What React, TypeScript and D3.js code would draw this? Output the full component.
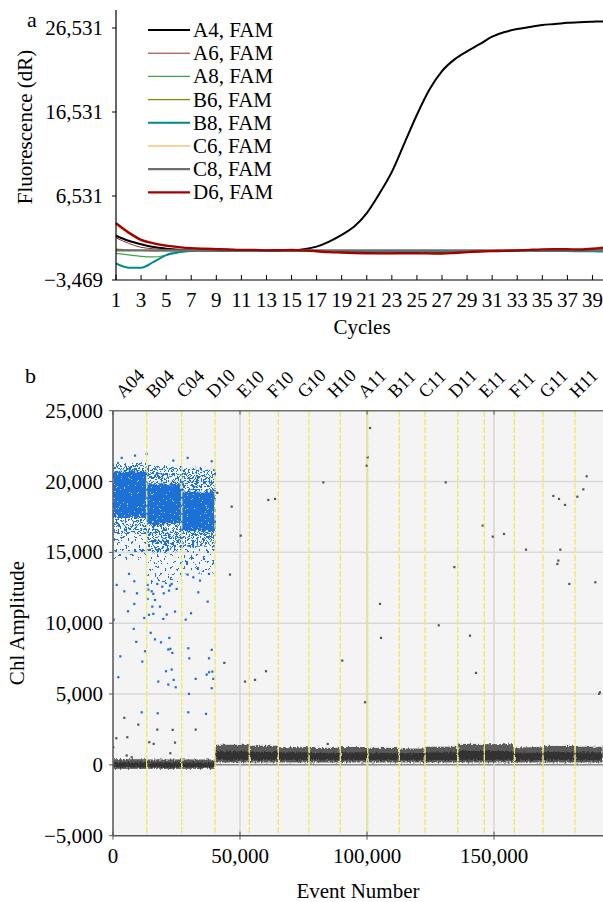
import React from 'react';
import * as d3 from 'd3';

// ---------- panel a: amplification curves ----------
const cycles = [1, 2, 3, 4, 5, 6, 7, 8, 9, 10, 11, 12, 13, 14, 15, 16, 17, 18, 19, 20,
  21, 22, 23, 24, 25, 26, 27, 28, 29, 30, 31, 32, 33, 34, 35, 36, 37, 38, 39, 40];

const a4 = [1800, 1200, 780, 450, 260, 130, 60, 20, 0, -20, 0, 0, -30, 0, 40, 190, 500, 1100, 1900, 2900,
  4500, 6800, 9400, 12800, 16200, 19200, 21400, 22800, 23750, 24600, 25500, 26050, 26400, 26650, 26900, 27000, 27150, 27230, 27280, 27320];
const a6 = [1550, 900, 420, 250, 130, 70, 40, 20, 10, 0, 0, 0, -20, 0, 20, 20, -30, -100, -150, -200,
  -230, -250, -250, -250, -240, -250, -260, -220, -150, -80, -40, 0, 30, 80, 120, 150, 150, 140, 180, 300];
const a8 = [-300, -480, -650, -720, -520, -220, -60, 0, 20, 10, 0, 10, -10, 0, 0, -20, -60, -100, -120, -150,
  -160, -180, -180, -170, -160, -170, -180, -150, -100, -60, -30, 0, 20, 40, 60, 70, 60, 50, 40, 40];
const b6 = [200, 100, 40, 10, 0, 0, 0, 0, 10, 0, 0, 0, -10, 0, 0, -10, -40, -80, -100, -120,
  -140, -150, -150, -150, -140, -150, -160, -130, -90, -50, -20, 0, 20, 50, 80, 100, 90, 80, 100, 200];
const b8 = [-1500, -2000, -2000, -1300, -500, -150, 0, 40, 40, 30, 20, 20, 10, 20, 30, 20, 0, -30, -50, -60,
  -60, -70, -70, -60, -60, -60, -70, -60, -40, -20, -10, 0, 0, 0, -10, -20, -30, -50, -60, -80];
const c6 = [3100, 2050, 1250, 850, 580, 420, 310, 240, 190, 150, 110, 110, 60, 80, 100, 60, -50, -160, -220, -260,
  -300, -320, -330, -300, -310, -320, -330, -260, -160, -90, -40, 0, 40, 100, 160, 180, 170, 160, 230, 380];
const c8 = [60, 60, 60, 60, 60, 60, 50, 50, 50, 50, 50, 50, 50, 50, 50, 50, 50, 50, 50, 50,
  50, 50, 50, 50, 50, 50, 50, 50, 50, 50, 50, 50, 50, 50, 50, 50, 50, 50, 50, 50];
const d6 = [3300, 2200, 1300, 900, 620, 450, 320, 250, 200, 160, 120, 120, 60, 80, 100, 60, -50, -150, -200, -250,
  -280, -300, -300, -280, -290, -300, -320, -250, -150, -80, -30, 0, 50, 120, 180, 200, 190, 170, 250, 420];

const seriesNames = ['A4, FAM', 'A6, FAM', 'A8, FAM', 'B6, FAM', 'B8, FAM', 'C6, FAM', 'C8, FAM', 'D6, FAM'];
const seriesValues = [a4, a6, a8, b6, b8, c6, c8, d6];
const seriesColors = ['#000000', '#8b2f2f', '#3fa645', '#8a8a00', '#00898c', '#f2a33a', '#6e6e6e', '#a30000'];
const seriesWidths = [2, 1, 1.2, 1.2, 2, 1.2, 2.2, 2.4];

const topYTicks = [26531, 16531, 6531, -3469];
const topXTicks = [1, 3, 5, 7, 9, 11, 13, 15, 17, 19, 21, 23, 25, 27, 29, 31, 33, 35, 37, 39];

// ---------- panel b: droplet amplitudes ----------
const wells = ['A04', 'B04', 'C04', 'D10', 'E10', 'F10', 'G10', 'H10', 'A11', 'B11', 'C11', 'D11', 'E11', 'F11', 'G11', 'H11'];
const wellStart = [0, 13270, 27050, 40160, 53660, 65080, 77170, 89490, 100280, 112720, 122830, 135710, 146180, 157990, 169290, 181890];
const eventMax = 192900;

// negative droplet cluster per well (outer band and dense middle)
const negLow = [-280, -280, -280, 170, 170, 170, 170, 170, 170, 170, 170, 170, 170, 170, 170, 170];
const negHigh = [400, 380, 380, 1420, 1350, 1250, 1200, 1260, 1200, 1150, 1280, 1480, 1460, 1240, 1340, 1280];
const negCoreLow = [-170, -170, -170, 350, 350, 350, 350, 350, 350, 350, 350, 350, 350, 350, 350, 350];
const negCoreHigh = [180, 170, 170, 950, 920, 880, 850, 880, 850, 830, 880, 980, 980, 860, 900, 880];

// positive droplet cluster (first three wells)
const posWells = ['A04', 'B04', 'C04'];
const posCoreLow = [17500, 17000, 16500];
const posCoreHigh = [20700, 19800, 19300];
const posFringeLow = [16300, 15000, 15400];
const posFringeHigh = [21300, 21100, 20900];
const posSparseLow = [14500, 12800, 13500];

const bluePoints: [number, number][] = [
  [1460, 12700], [4450, 12250], [6300, 13480], [8390, 12960], [9450, 12110], [8390, 11360], [5900, 10840], [280, 10250],
  [12320, 10370], [13650, 12700], [13900, 12370], [13650, 11710], [15230, 12250], [15870, 12070], [16530, 11640],
  [14170, 10590], [15870, 10660], [15470, 11170], [17440, 12770], [18500, 11170], [19410, 12580], [19960, 12110],
  [21140, 10610], [19800, 10300], [22440, 12650], [23110, 12770], [22050, 12300], [25080, 12420], [24410, 10820],
  [29410, 13430], [31610, 13240], [33580, 12180], [34250, 13010], [30710, 10700], [28620, 10250], [37280, 11520],
  [37800, 13480], [8150, 9600], [14840, 9320], [9170, 8680], [16530, 8860], [18900, 8650], [22170, 8960],
  [21770, 8140], [22570, 8190], [23350, 7900], [12600, 8020], [2880, 7660], [11540, 7290], [29650, 8230],
  [38860, 8120], [30040, 7520], [37800, 7520], [20870, 6610], [23110, 6730], [36890, 6370], [37800, 6540],
  [39100, 6580], [39490, 6070], [2090, 6190], [17830, 5880], [23900, 6000], [21770, 5670], [32560, 6070],
  [24690, 5480], [38860, 5410], [29920, 5010], [11300, 3710], [17600, 3640], [29650, 3710], [36610, 3600],
  [3430, 21670], [8660, 21830], [13270, 21950], [23740, 21480], [29410, 21670], [38860, 21430]
];

const grayPoints: [number, number][] = [
  [4450, 3320], [9960, 2840], [1300, 1880], [5630, 1950], [17440, 2490], [23500, 2470], [32560, 2490],
  [14290, 1600], [16020, 1480], [24410, 1570], [5390, 660], [7360, 540], [22570, 820], [120, 1240],
  [41060, 19200], [46730, 18230], [50270, 16180], [46060, 13430], [61140, 18700], [63780, 18770], [82790, 19940],
  [101180, 23780], [100280, 21710], [99880, 21120], [105110, 11360], [105510, 8960], [90270, 7360], [43820, 7200],
  [60240, 6610], [51970, 5880], [55910, 6000], [99210, 4420], [191700, 5120], [191340, 5020],
  [130990, 19940], [145550, 16890], [149490, 16110], [153940, 16300], [162600, 15190], [173350, 18980],
  [175590, 18770], [177950, 18350], [182800, 18930], [185160, 19450], [186470, 20370], [176100, 15190],
  [175320, 14420], [174930, 14180], [134370, 13960], [179640, 12770], [189880, 12890], [128220, 9850],
  [140550, 9120], [142910, 6490], [84530, 1480]
];

const bottomYTicks = [-5000, 0, 5000, 10000, 15000, 20000, 25000];
const bottomXTicks = [0, 50000, 100000, 150000];

const FONT = 'Liberation Serif, DejaVu Serif, serif';
const fmt = d3.format(',');
const fmtMinus = (v: number) => (v < 0 ? '\u2212' + fmt(-v) : fmt(v));

const BLUE = '#1c6fd6';
const FS = 21;

export default function App() {
  // panel a scales
  const xA = d3.scaleLinear().domain([1, 40]).range([116, 605]);
  const yA = d3.scaleLinear().domain([-3469, 26531]).range([280, 28]);
  const line = d3.line<number>()
    .x((_, i) => xA(cycles[i]))
    .y(d => yA(d))
    .curve(d3.curveMonotoneX);

  // panel b scales
  const xB = d3.scaleLinear().domain([0, eventMax]).range([113, 603]);
  const yB = d3.scaleLinear().domain([-5000, 25000]).range([835.7, 410.7]);
  const labelBand = d3.scaleBand<string>().domain(wells).range([113, 597]);
  const wellEnd = (i: number) => (i + 1 < wellStart.length ? wellStart[i + 1] : eventMax);

  const plotTop = yB(25000);
  const plotBottom = yB(-5000);

  return (
    <svg width={603} height={902} style={{ position: 'absolute', left: 0, top: 0, background: '#fff', fontFamily: FONT }}
      fontFamily={FONT}>
      <defs>
        <pattern id="core" patternUnits="userSpaceOnUse" width={7} height={7}>
          <rect width={7} height={7} fill={BLUE} />
          <rect x={2} y={1} width={1} height={1} fill="#9cc0ee" />
          <rect x={5} y={4} width={1} height={1} fill="#b8d2f2" />
        </pattern>
        <pattern id="fringe" patternUnits="userSpaceOnUse" width={8} height={8}>
          <rect x={0} y={0} width={2} height={2} fill={BLUE} />
          <rect x={4} y={1} width={2} height={2} fill={BLUE} />
          <rect x={2} y={3} width={2} height={2} fill={BLUE} />
          <rect x={6} y={4} width={2} height={2} fill={BLUE} />
          <rect x={0} y={5} width={2} height={2} fill={BLUE} />
          <rect x={4} y={6} width={2} height={2} fill={BLUE} />
          <rect x={6} y={1} width={1} height={2} fill={BLUE} />
        </pattern>
        <pattern id="sparse" patternUnits="userSpaceOnUse" width={13} height={12}>
          <rect x={1} y={2} width={2} height={2} fill={BLUE} />
          <rect x={8} y={5} width={2} height={2} fill={BLUE} />
          <rect x={4} y={9} width={2} height={2} fill={BLUE} />
          <rect x={11} y={10} width={2} height={2} fill={BLUE} />
        </pattern>
        <filter id="rough" x="-5%" y="-30%" width="110%" height="160%">
          <feTurbulence type="fractalNoise" baseFrequency="0.35" numOctaves={2} seed={4} />
          <feDisplacementMap in="SourceGraphic" scale={7} xChannelSelector="R" yChannelSelector="G" />
        </filter>
        <filter id="roughBand" x="-2%" y="-60%" width="104%" height="220%">
          <feTurbulence type="fractalNoise" baseFrequency="0.6 0.3" numOctaves={2} seed={9} />
          <feDisplacementMap in="SourceGraphic" scale={4} xChannelSelector="R" yChannelSelector="G" />
        </filter>
        <clipPath id="plotClip">
          <rect x={113} y={plotTop} width={603 - 113} height={plotBottom - plotTop} />
        </clipPath>
      </defs>

      {/* ===== panel a ===== */}
      <text x={27} y={27} fontSize={22}>a</text>
      {seriesValues.map((vals, i) => (
        <path key={seriesNames[i]} d={line(vals) || ''} fill="none"
          stroke={seriesColors[i]} strokeWidth={seriesWidths[i]} />
      ))}
      <line x1={116} x2={116} y1={10} y2={280} stroke="#000" strokeWidth={1.2} />
      <line x1={116} x2={603} y1={280} y2={280} stroke="#000" strokeWidth={1.2} />
      {topYTicks.map(t => (
        <g key={t}>
          <line x1={112} x2={116} y1={yA(t)} y2={yA(t)} stroke="#000" />
          <text x={103} y={yA(t) + 7} textAnchor="end" fontSize={FS}>{fmtMinus(t)}</text>
        </g>
      ))}
      {topXTicks.map(t => (
        <g key={t}>
          <line x1={xA(t)} x2={xA(t)} y1={280} y2={275} stroke="#000" />
          <text x={xA(t)} y={307} textAnchor="middle" fontSize={FS}>{t}</text>
        </g>
      ))}
      <text x={362} y={334} textAnchor="middle" fontSize={FS}>Cycles</text>
      <text transform={`translate(32,127) rotate(-90)`} textAnchor="middle" fontSize={FS}>Fluorescence (dR)</text>
      {seriesNames.map((n, i) => {
        const cy = 30 + i * 23.2;
        return (
          <g key={n}>
            <line x1={148} x2={190} y1={cy} y2={cy} stroke={seriesColors[i]} strokeWidth={seriesWidths[i]} />
            <text x={193} y={cy + 7} fontSize={FS}>{n}</text>
          </g>
        );
      })}

      {/* ===== panel b ===== */}
      <text x={25} y={383} fontSize={22}>b</text>
      <rect x={113} y={plotTop} width={603 - 113} height={plotBottom - plotTop} fill="#f4f4f4" />
      {bottomYTicks.filter(t => t !== 25000 && t !== -5000).map(t => (
        <line key={t} x1={113} x2={603} y1={yB(t)} y2={yB(t)} stroke={t === 0 ? '#8a8a8a' : '#d9d9d9'} strokeWidth={1.5} />
      ))}
      {bottomXTicks.filter(t => t > 0).map(t => (
        <line key={t} x1={xB(t)} x2={xB(t)} y1={plotTop} y2={plotBottom} stroke="#d6d6d6" strokeWidth={1.5} />
      ))}

      <g clipPath="url(#plotClip)">
        {/* negative clusters */}
        <g filter="url(#roughBand)">
          {wells.map((w, i) => (
            <g key={w}>
              <rect x={xB(wellStart[i]) + 0.5} width={xB(wellEnd(i)) - xB(wellStart[i]) - 1}
                y={yB(negHigh[i])} height={yB(negLow[i]) - yB(negHigh[i])} fill="#5a5a5a" />
              <rect x={xB(wellStart[i]) + 0.5} width={xB(wellEnd(i)) - xB(wellStart[i]) - 1}
                y={yB(negCoreHigh[i])} height={yB(negCoreLow[i]) - yB(negCoreHigh[i])} fill="#323232" />
            </g>
          ))}
        </g>

        {/* positive clusters */}
        <g filter="url(#rough)">
          {posWells.map((w, j) => {
            const i = wells.indexOf(w);
            const x0 = xB(wellStart[i]);
            const wdt = xB(wellEnd(i)) - x0;
            return (
              <g key={w}>
                <rect x={x0} width={wdt} y={yB(posFringeLow[j])} height={yB(posSparseLow[j]) - yB(posFringeLow[j])} fill="url(#sparse)" />
                <rect x={x0} width={wdt} y={yB(posFringeHigh[j])} height={yB(posFringeLow[j]) - yB(posFringeHigh[j])} fill="url(#fringe)" />
                <rect x={x0} width={wdt} y={yB(posCoreHigh[j])} height={yB(posCoreLow[j]) - yB(posCoreHigh[j])} fill="url(#core)" />
              </g>
            );
          })}
        </g>

        {grayPoints.map((p, i) => (
          <rect key={'g' + i} x={xB(p[0]) - 1.1} y={yB(p[1]) - 1.1} width={2.2} height={2.2} fill="#555" />
        ))}
        {bluePoints.map((p, i) => (
          <rect key={'b' + i} x={xB(p[0]) - 1.1} y={yB(p[1]) - 1.1} width={2.2} height={2.2} fill={BLUE} />
        ))}

        {/* well boundaries */}
        {wellStart.slice(1).map(s => (
          <line key={s} x1={xB(s)} x2={xB(s)} y1={plotTop} y2={plotBottom}
            stroke="#eaea5c" strokeWidth={1.3} strokeDasharray="6,2" />
        ))}
      </g>

      {/* frame and axes */}
      <line x1={113} x2={603} y1={plotTop} y2={plotTop} stroke="#707070" strokeWidth={1.5} />
      <line x1={113} x2={113} y1={plotTop} y2={plotBottom} stroke="#555" strokeWidth={1.5} />
      <line x1={113} x2={603} y1={plotBottom} y2={plotBottom} stroke="#555" strokeWidth={1.5} />
      {bottomYTicks.map(t => (
        <g key={t}>
          <line x1={109} x2={113} y1={yB(t)} y2={yB(t)} stroke="#555" />
          <text x={103} y={yB(t) + 7} textAnchor="end" fontSize={FS}>{fmtMinus(t)}</text>
        </g>
      ))}
      {bottomXTicks.map(t => (
        <g key={t}>
          <line x1={xB(t)} x2={xB(t)} y1={plotBottom - 4} y2={plotBottom + 4} stroke="#555" />
          <line x1={xB(t)} x2={xB(t)} y1={plotTop} y2={plotTop + 4} stroke="#555" />
          <text x={xB(t)} y={863} textAnchor="middle" fontSize={FS}>{fmt(t)}</text>
        </g>
      ))}
      {wells.map(w => {
        const cx = (labelBand(w) || 0) + labelBand.bandwidth() / 2 - 5;
        return (
          <text key={w} transform={`translate(${cx},399) rotate(-45)`} fontSize={18.5}>{w}</text>
        );
      })}
      <text x={358} y={898} textAnchor="middle" fontSize={FS}>Event Number</text>
      <text transform={`translate(24,623) rotate(-90)`} textAnchor="middle" fontSize={FS}>Chl Amplitude</text>
    </svg>
  );
}
